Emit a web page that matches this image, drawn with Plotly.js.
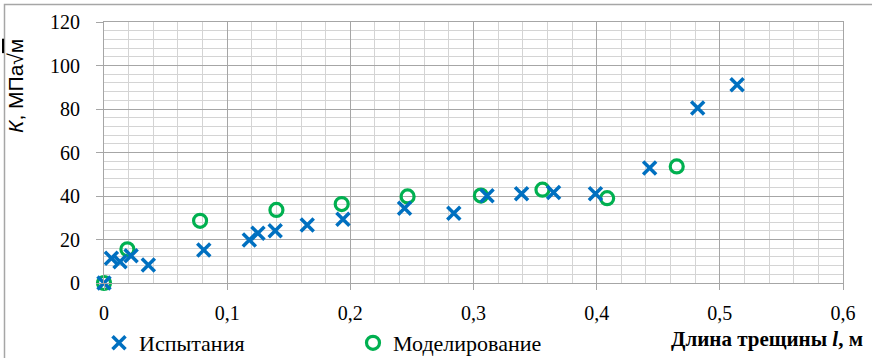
<!DOCTYPE html>
<html>
<head>
<meta charset="utf-8">
<script src="https://cdn.plot.ly/plotly-3.0.1.min.js"></script>
<style>
html,body{margin:0;padding:0;background:#fff;}
#chart{width:872px;height:358px;}
</style>
</head>
<body>
<div id="chart"></div>
<script>
// Испытания (tests)
const testL = [0, 0.006, 0.013, 0.022, 0.036, 0.081, 0.118, 0.125, 0.139, 0.165, 0.194, 0.244, 0.284, 0.311, 0.339, 0.365, 0.399, 0.443, 0.482, 0.514];
const testK = [0, 11.4, 9.8, 12.5, 8.3, 15.2, 19.8, 22.9, 24.0, 26.7, 29.3, 34.4, 32.1, 40.1, 41.0, 41.6, 41.0, 52.9, 80.5, 91.2];
// Моделирование (modelling)
const modL = [0, 0.019, 0.078, 0.140, 0.193, 0.2465, 0.306, 0.356, 0.4085, 0.465];
const modK = [0, 15.5, 28.6, 33.6, 36.3, 39.8, 40.2, 42.9, 39.0, 53.6];
const xTickVals = [0, 0.1, 0.2, 0.3, 0.4, 0.5, 0.6];
const xTickText = ['0', '0,1', '0,2', '0,3', '0,4', '0,5', '0,6'];
const yTickVals = [0, 20, 40, 60, 80, 100, 120];

const serif = 'Liberation Serif';
const sans = 'Liberation Sans';
const majorGrid = '#a6a6a6';
const minorGrid = '#d4d4d4';

const traces = [
  {
    x: modL, y: modK, type: 'scatter', mode: 'markers', name: 'Моделирование', cliponaxis: false,
    marker: {symbol: 'circle-open', size: 13, color: '#00b050', line: {color: '#00b050', width: 3.2}}
  },
  {
    x: testL, y: testK, type: 'scatter', mode: 'markers', name: 'Испытания', cliponaxis: false,
    marker: {symbol: 'x-thin', size: 13, color: '#0070c0', line: {color: '#0070c0', width: 3.5}}
  }
];

const L = 104, R = 843, T = 22, B = 283, W = 872, H = 358;
const px = v => (v - L) / (R - L);
const py = v => (B - v) / (B - T);

const layout = {
  width: W, height: H,
  margin: {l: L, r: W - R, t: T, b: H - B, pad: 0},
  paper_bgcolor: '#ffffff', plot_bgcolor: '#ffffff',
  separators: ', ',
  font: {family: serif, size: 20, color: '#000'},
  showlegend: true,
  xaxis: {
    range: [0, 0.6], tickvals: xTickVals, ticktext: xTickText,
    showgrid: true, gridcolor: majorGrid, gridwidth: 1,
    minor: {dtick: 0.02, showgrid: true, gridcolor: minorGrid, gridwidth: 1, ticks: ''},
    showline: true, linecolor: majorGrid, linewidth: 1, mirror: true,
    ticks: 'outside', ticklen: 6, tickcolor: majorGrid,
    ticklabelstandoff: 6,
    zeroline: false, fixedrange: true,
    tickfont: {family: serif, size: 20, color: '#000'}
  },
  yaxis: {
    range: [0, 120], tickvals: yTickVals,
    showgrid: true, gridcolor: majorGrid, gridwidth: 1,
    minor: {dtick: 4, showgrid: true, gridcolor: minorGrid, gridwidth: 1, ticks: ''},
    showline: true, linecolor: majorGrid, linewidth: 1, mirror: true,
    ticks: 'outside', ticklen: 7, tickcolor: majorGrid,
    ticklabelstandoff: 12,
    zeroline: false, fixedrange: true,
    tickfont: {family: serif, size: 20, color: '#000'}
  },
  legend: {
    orientation: 'h', xref: 'container', yref: 'container', traceorder: 'reversed',
    x: 99 / W, xanchor: 'left', y: 1 - 343 / H, yanchor: 'middle',
    entrywidth: 209, entrywidthmode: 'pixels',
    font: {family: serif, size: 22, color: '#000'},
    bgcolor: 'rgba(0,0,0,0)', borderwidth: 0, itemwidth: 30
  },
  annotations: [
    {
      xref: 'paper', yref: 'paper', x: px(15), y: py(86), xanchor: 'center', yanchor: 'middle',
      textangle: -90, showarrow: false,
      text: '<i>К</i>, МПа√<span style="text-decoration:overline">м</span>',
      font: {family: sans, size: 21, color: '#000'}
    },
    {
      xref: 'paper', yref: 'paper', x: px(865), y: py(339), xanchor: 'right', yanchor: 'middle',
      showarrow: false,
      text: '<b>Длина трещины <i>l</i>, м</b>',
      font: {family: serif, size: 21, color: '#000'}
    }
  ],
  shapes: [
    {type: 'path', xref: 'paper', yref: 'paper', layer: 'above',
     path: 'M ' + px(4.5) + ' ' + py(360) + ' L ' + px(4.5) + ' ' + py(4.5) + ' L ' + px(875) + ' ' + py(4.5),
     line: {color: '#a6a6a6', width: 1.5}}
  ]
};

Plotly.newPlot('chart', traces, layout, {displayModeBar: false, staticPlot: true});
</script>
</body>
</html>
